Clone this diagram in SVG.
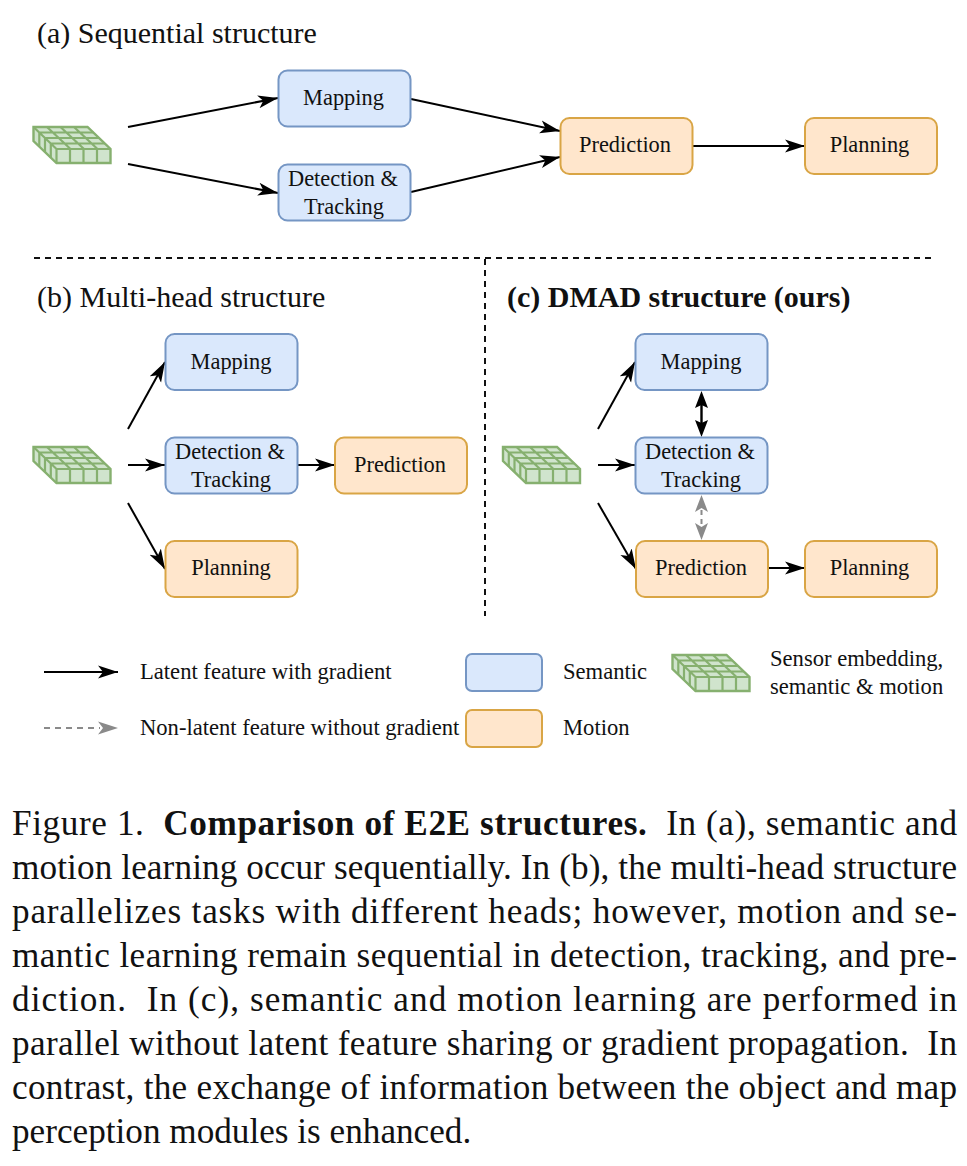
<svg xmlns="http://www.w3.org/2000/svg" width="967" height="1166" viewBox="0 0 967 1166">
<style>
text{font-family:"Liberation Serif","Times New Roman",serif;fill:#111}
.n{font-size:22.4px;text-anchor:middle}
.t{font-size:30px}
.l{font-size:22.6px}
.c{font-size:35.2px;white-space:pre}
.b{font-weight:bold}
.sem{fill:#dae8fc;stroke:#7596c4;stroke-width:2}
.mot{fill:#ffe6cc;stroke:#d9a545;stroke-width:2}
.a{fill:none;stroke:#000;stroke-width:2;marker-end:url(#ah)}
.ab{fill:none;stroke:#000;stroke-width:2.4}
.g{fill:none;stroke:#8a8a8a;stroke-width:2;stroke-dasharray:6 5}
.gh{fill:#8a8a8a}
.sep{fill:none;stroke:#111;stroke-width:2;stroke-dasharray:6 5}
.cube{fill:#d0e4cd;stroke:#86b06f;stroke-width:2.4}
</style>
<defs>
<marker id="ah" markerWidth="22" markerHeight="14" refX="20" refY="7" orient="auto" markerUnits="userSpaceOnUse"><path d="M0 0.500 L20 7 L0 13.500 L5 7Z" fill="#000"/></marker>
<g id="icon">
<path class="cube" d="M0 0H54L77 22V36H23L0 14Z"/>
<path fill="none" stroke="#86b06f" stroke-width="2.200" d="M0 0L23 22H77M13.500 0L37 22M27 0L50.500 22M40.500 0L64 22M5.800 5.500H59.800M11.500 11H65.500M17.300 16.500H71.300M23 22V36M36.500 22V36M50 22V36M63.500 22V36M5.800 5.500V19.500M11.500 11V25M17.300 16.500V30.500"/>
</g>
</defs>

<g id="connectors">
<path class="a" d="M128 127L278 98"/>
<path class="a" d="M128 164L278 193"/>
<path class="a" d="M411 99L560 131"/>
<path class="a" d="M411 192L560 157"/>
<path class="a" d="M693 146H805"/>
<path class="a" d="M128 429L165 362"/>
<path class="a" d="M128 465H165"/>
<path class="a" d="M128 503L165 569"/>
<path class="a" d="M298 465H335"/>
<path class="a" d="M598 429L635 362"/>
<path class="a" d="M598 465H635"/>
<path class="a" d="M598 503L636 569"/>
<path class="a" d="M768 568H805"/>
<path class="ab" d="M701.500 400V428"/>
<path d="M701.500 391L695 408L701.500 405L708 408Z"/>
<path d="M701.500 437L695 420L701.500 423L708 420Z"/>
<path class="gh" d="M701.500 495L695 512L701.500 508L708 512Z"/>
<path class="gh" d="M701.500 540L695 523L701.500 527L708 523Z"/>
<path class="g" d="M701.500 510V524" style="stroke-dasharray:5 4"/>
<path class="a" d="M44 672H118"/>
<path class="g" d="M44 728H100"/>
<path class="gh" d="M98 721.500L118 728L98 734.500L103 728Z"/>
</g>

<g id="separators">
<path class="sep" d="M34 258H933"/>
<path class="sep" d="M485 259V616"/>
</g>

<text class="t" x="37" y="43">(a) Sequential structure</text>
<text class="t" x="37" y="307">(b) Multi-head structure</text>
<text class="t b" x="507" y="307">(c) DMAD structure (ours)</text>

<g id="a-sensor"><use href="#icon" x="33.500" y="127"/></g>
<g id="a-mapping"><rect class="sem" x="278.500" y="70.500" width="132" height="56" rx="9"/><text class="n" x="343.500" y="105">Mapping</text></g>
<g id="a-detection"><rect class="sem" x="278.500" y="164.500" width="132" height="56" rx="9"/><text class="n" x="343" y="186">Detection &amp;</text><text class="n" x="344" y="214">Tracking</text></g>
<g id="a-prediction"><rect class="mot" x="560.500" y="118" width="132" height="56" rx="9"/><text class="n" x="625" y="152">Prediction</text></g>
<g id="a-planning"><rect class="mot" x="805" y="118" width="132" height="56" rx="9"/><text class="n" x="869.500" y="152">Planning</text></g>

<g id="b-sensor"><use href="#icon" x="33.500" y="447"/></g>
<g id="b-mapping"><rect class="sem" x="165.500" y="334" width="132" height="56" rx="9"/><text class="n" x="231" y="369">Mapping</text></g>
<g id="b-detection"><rect class="sem" x="165.500" y="437.500" width="132" height="56" rx="9"/><text class="n" x="230" y="459">Detection &amp;</text><text class="n" x="231" y="487">Tracking</text></g>
<g id="b-prediction"><rect class="mot" x="335" y="437.500" width="132" height="56" rx="9"/><text class="n" x="400" y="472">Prediction</text></g>
<g id="b-planning"><rect class="mot" x="165.500" y="541" width="132" height="56" rx="9"/><text class="n" x="231" y="575">Planning</text></g>

<g id="c-sensor"><use href="#icon" x="503" y="447"/></g>
<g id="c-mapping"><rect class="sem" x="635.500" y="334" width="132" height="56" rx="9"/><text class="n" x="701" y="369">Mapping</text></g>
<g id="c-detection"><rect class="sem" x="635.500" y="437.500" width="132" height="56" rx="9"/><text class="n" x="700" y="459">Detection &amp;</text><text class="n" x="701" y="487">Tracking</text></g>
<g id="c-prediction"><rect class="mot" x="636" y="541" width="132" height="56" rx="9"/><text class="n" x="701" y="575">Prediction</text></g>
<g id="c-planning"><rect class="mot" x="805" y="541" width="132" height="56" rx="9"/><text class="n" x="869.500" y="575">Planning</text></g>

<g id="legend">
<text class="l" x="140" y="679">Latent feature with gradient</text>
<text class="l" x="140" y="735">Non-latent feature without gradient</text>
<rect class="sem" x="466" y="654" width="76" height="37" rx="6"/>
<rect class="mot" x="466" y="710" width="76" height="37" rx="6"/>
<text class="l" x="563" y="679">Semantic</text>
<text class="l" x="563" y="735">Motion</text>
<use href="#icon" x="672.500" y="655"/>
<text class="l" x="770" y="666">Sensor embedding,</text>
<text class="l" x="770" y="694">semantic &amp; motion</text>
</g>

<g id="caption">
<text class="c" x="12" y="835" textLength="945">Figure 1.  <tspan class="b">Comparison of E2E structures.</tspan>  In (a), semantic and</text>
<text class="c" x="12" y="879" textLength="945">motion learning occur sequentially. In (b), the multi-head structure</text>
<text class="c" x="12" y="923" textLength="945">parallelizes tasks with different heads; however, motion and se-</text>
<text class="c" x="12" y="967" textLength="945">mantic learning remain sequential in detection, tracking, and pre-</text>
<text class="c" x="12" y="1011" textLength="945">diction.  In (c), semantic and motion learning are performed in</text>
<text class="c" x="12" y="1055" textLength="945">parallel without latent feature sharing or gradient propagation.  In</text>
<text class="c" x="12" y="1099" textLength="945">contrast, the exchange of information between the object and map</text>
<text class="c" x="12" y="1143">perception modules is enhanced.</text>
</g>
</svg>
